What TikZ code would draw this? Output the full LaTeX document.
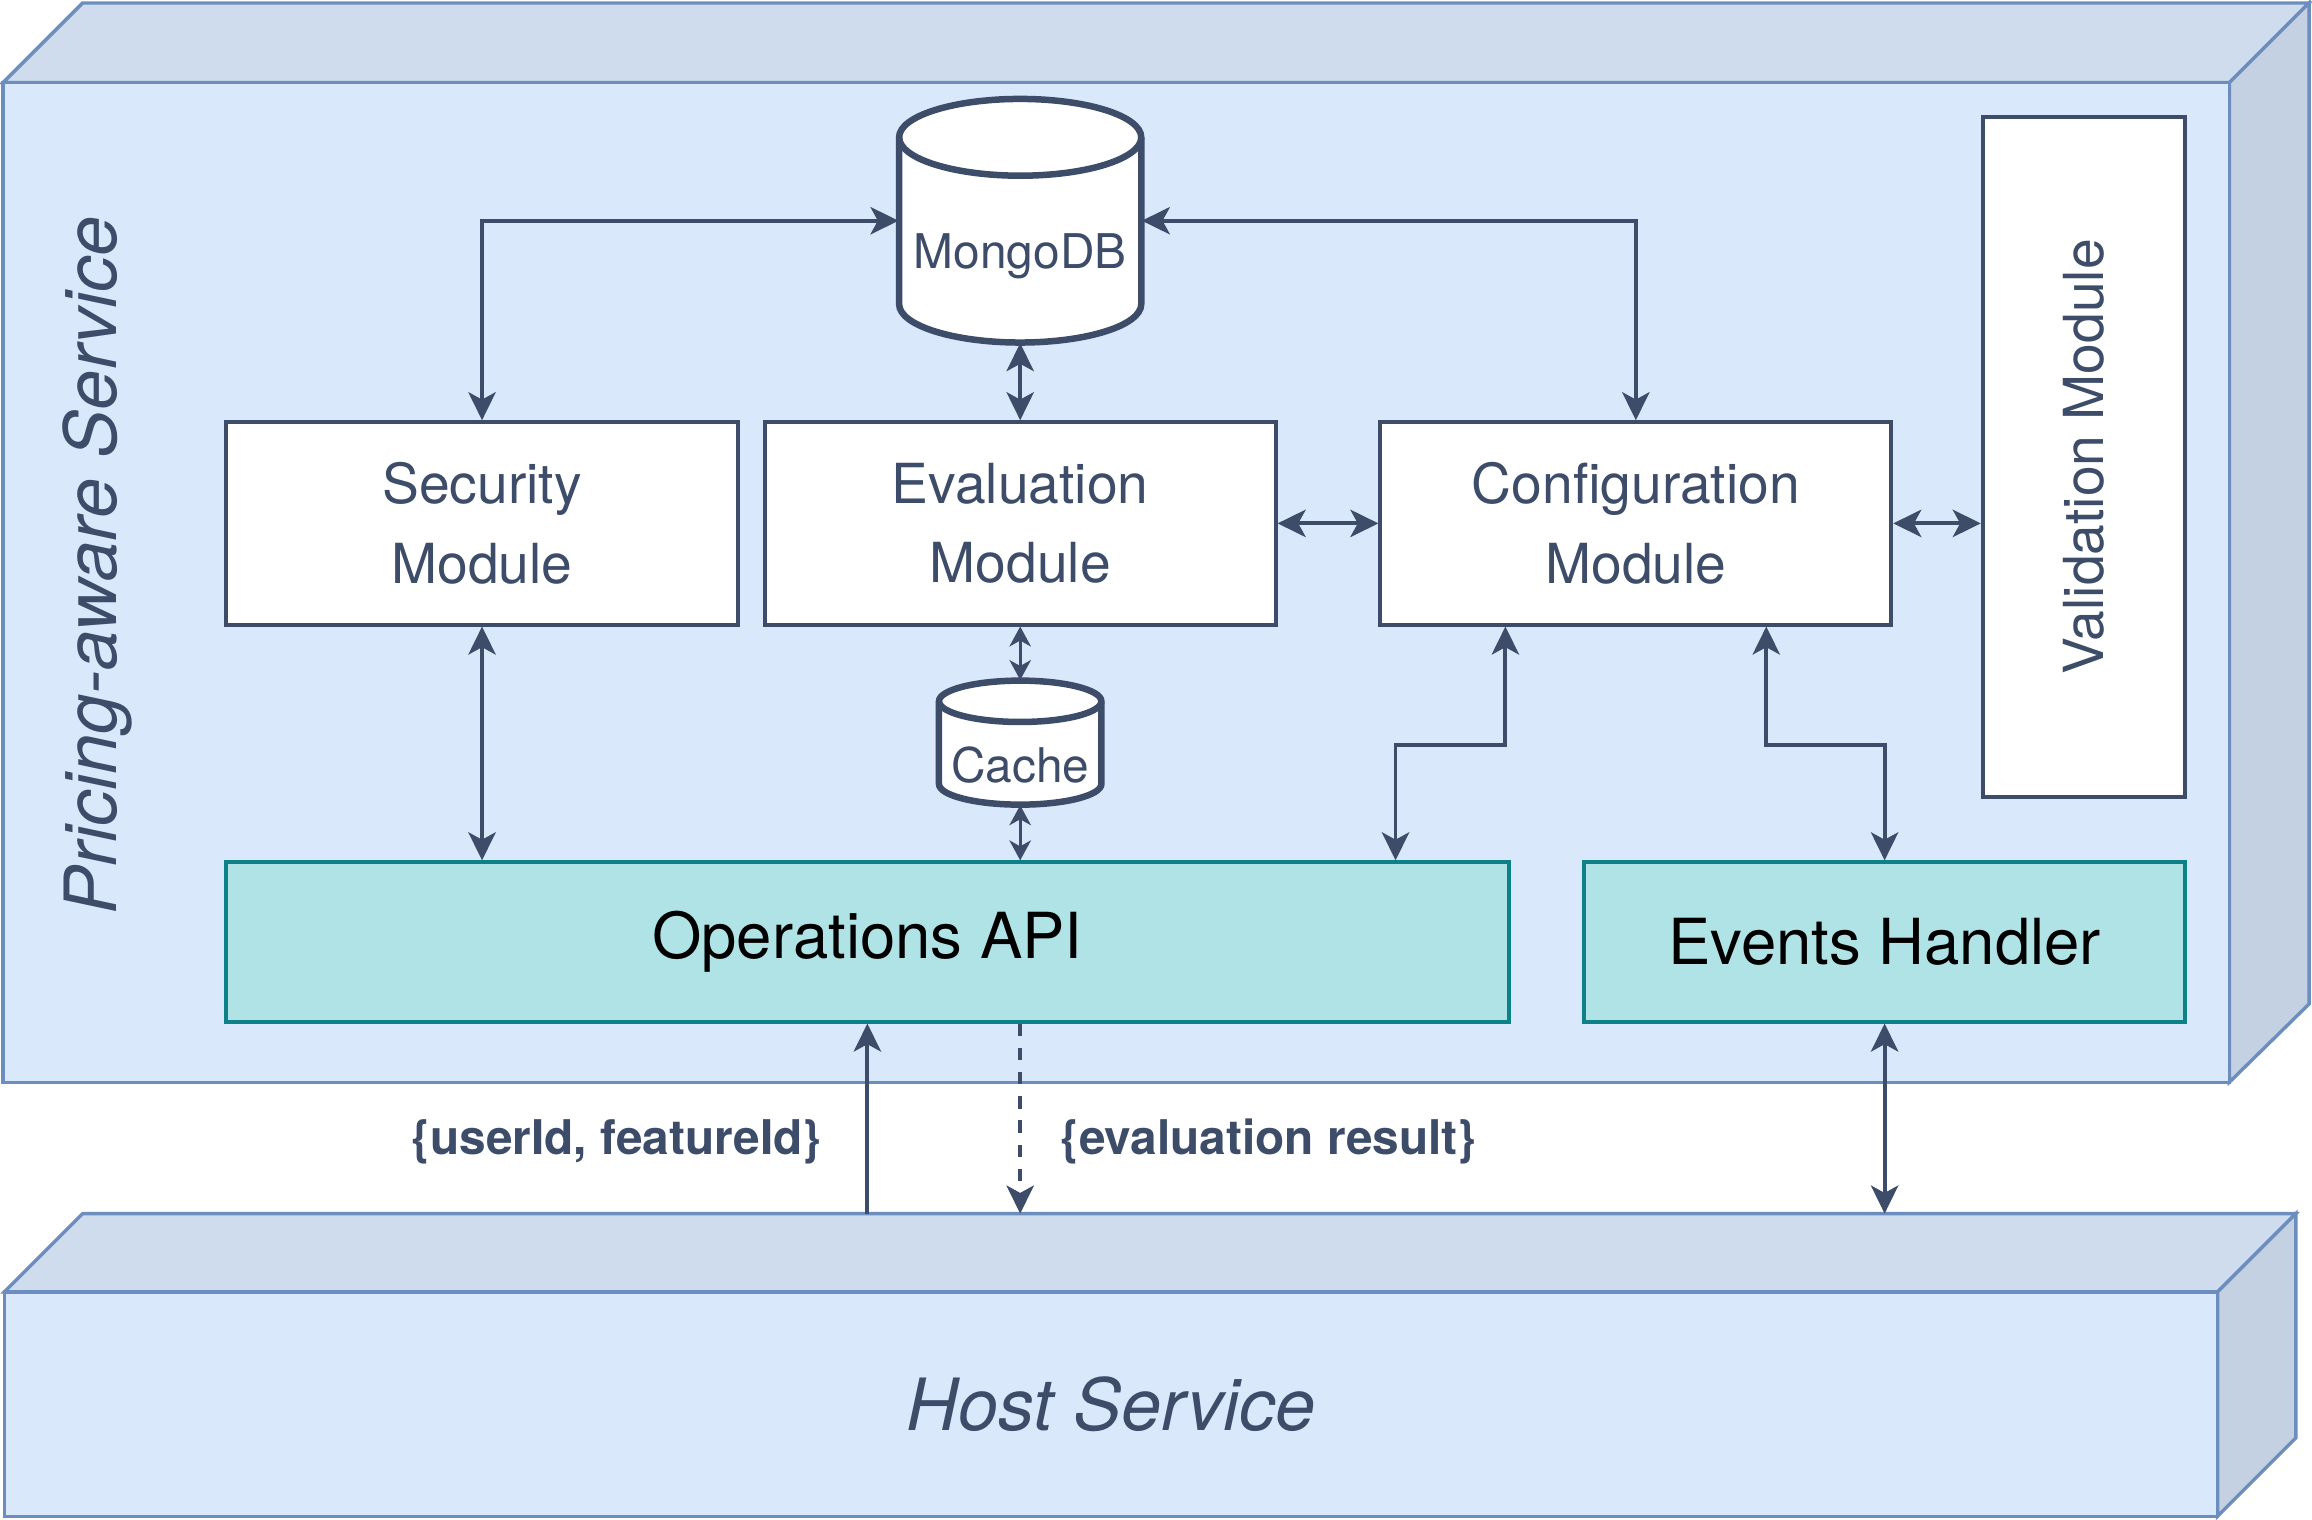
\documentclass[tikz,border=0pt]{standalone}
\usepackage{fontspec}
\setmainfont{TeX Gyre Heros}
\usetikzlibrary{arrows.meta,positioning}
\definecolor{ink}{RGB}{61,77,105}
\definecolor{boxfront}{HTML}{DAE8FC}
\definecolor{boxtop}{HTML}{CFDCEE}
\definecolor{boxside}{HTML}{C4D1E3}
\definecolor{boxedge}{HTML}{6C8EBF}
\definecolor{apifill}{HTML}{B0E3E6}
\definecolor{apiedge}{HTML}{0E8088}
\begin{document}
\begin{tikzpicture}[x=0.5pt,y=-0.5pt]
        % Styles
        \tikzstyle{face}=[fill=boxfront,draw=boxedge,line width=1.15pt]
        \tikzstyle{frame title}=[text=ink,font=\fontsize{24.4}{29}\selectfont\itshape]
        \tikzstyle{module}=[draw=ink,fill=white,line width=1.35pt,inner sep=0pt,text=ink,align=center,font=\fontsize{18.7}{27}\selectfont]
        \tikzstyle{api}=[draw=apiedge,fill=apifill,line width=1.25pt,inner sep=0pt,text=black,font=\fontsize{21.5}{26}\selectfont]
        \tikzstyle{db}=[inner sep=0pt,text=ink,font=\fontsize{16.2}{20}\selectfont]
        \tikzstyle{db line}=[draw=ink,fill=white,line width=2.2pt]
        \tikzstyle{link}=[draw=ink,line width=1.3pt,>={Stealth[length=9.5pt,width=9.25pt,inset=2.5pt]},<->]
        \tikzstyle{small link}=[draw=ink,line width=1.1pt,>={Stealth[length=6.75pt,width=7.25pt,inset=2pt]},<->]
        \tikzstyle{flow label}=[inner sep=0pt,text=ink,font=\fontsize{16.2}{20}\selectfont\bfseries]
        %The graphic
        \useasboundingbox (0,0) rectangle (1566,1029.5);
        %pricing-aware service block
        \filldraw[face,fill=boxtop] (2,56) -- (56,2) -- (1564,2) -- (1510,56) -- cycle;
        \filldraw[face,fill=boxside] (1510,56) -- (1564,2) -- (1564,680) -- (1510,733) -- cycle;
        \filldraw[face] (2,56) rectangle (1510,733);
        \node[frame title,rotate=90] (pricing) at (66,383) {Pricing-aware Service};
        %host service block
        \filldraw[face,fill=boxtop] (3,875) -- (56,822) -- (1555,822) -- (1502,875) -- cycle;
        \filldraw[face,fill=boxside] (1502,875) -- (1555,822) -- (1555,974) -- (1502,1027) -- cycle;
        \filldraw[face] (3,875) rectangle (1502,1027);
        \node[frame title] (host) at (752.5,951) {Host Service};
        \coordinate (host top) at (0,822);
        %databases
        \draw[db line] (609,93) -- (609,206) arc[start angle=180,end angle=360,x radius=41pt,y radius=13pt] -- (773,93) arc[start angle=0,end angle=180,x radius=41pt,y radius=13pt] -- cycle;
        \draw[db line,fill=none] (609,93) arc[start angle=180,end angle=360,x radius=41pt,y radius=13pt];
        \node[db,minimum width=82pt,minimum height=82.5pt,label={[db,yshift=-12pt]center:MongoDB}] (mongo) at (691,149.5) {};
        \draw[db line] (636,475) -- (636,531) arc[start angle=180,end angle=360,x radius=27.5pt,y radius=7pt] -- (746,475) arc[start angle=0,end angle=180,x radius=27.5pt,y radius=7pt] -- cycle;
        \draw[db line,fill=none] (636,475) arc[start angle=180,end angle=360,x radius=27.5pt,y radius=7pt];
        \node[db,minimum width=55pt,minimum height=42pt,label={[db,yshift=-7.5pt]center:Cache}] (cache) at (691,503) {};
        %modules
        \node[module,minimum width=173.5pt,minimum height=68.5pt] (security) at (326.5,354.5) {Security\\Module};
        \node[module,minimum width=173pt,minimum height=68.5pt] (evaluation) at (691,354.5) {Evaluation\\Module};
        \node[module,minimum width=173pt,minimum height=68.5pt] (configuration) at (1108,354.5) {Configuration\\Module};
        \node[module,minimum width=68.5pt,minimum height=230.5pt] (validation) at (1411.5,309.5) {\rotatebox{90}{Validation Module}};
        \node[api,minimum width=434.5pt,minimum height=54pt] (ops) at (587.5,638) {Operations API};
        \node[api,minimum width=203.5pt,minimum height=54pt] (events) at (1276.5,638) {Events Handler};
        %connections
        \draw[link] (security.north) |- (mongo.west);
        \draw[link] (mongo.east) -| (configuration.north);
        \draw[link] (mongo.south) -- (evaluation.north);
        \draw[link] (evaluation.east) -- (configuration.west);
        \draw[link] (configuration.east) -- (validation.west |- configuration.east);
        \draw[link] (security.south) -- (ops.north -| security.south);
        \draw[small link] (evaluation.south) -- (cache.north);
        \draw[small link] (cache.south) -- (ops.north -| cache.south);
        \draw[link] ([xshift=43pt]configuration.south west) -- ++(0,80) -| ([xshift=-39pt]ops.north east);
        \draw[link] ([xshift=-43pt]configuration.south east) -- ++(0,80) -| (events.north);
        \draw[link] (events.south) -- (events.south |- host top);
        \draw[link,->] (ops.south |- host top) -- node[flow label,pos=0.377,left=15pt] (request) {\{userId, featureId\}} (ops.south);
        \draw[link,->,dash pattern=on 4.2pt off 4pt] (ops.south -| evaluation.south) -- node[flow label,pos=0.623,right=13pt] (response) {\{evaluation result\}} (evaluation.south |- host top);
\end{tikzpicture}
\end{document}
